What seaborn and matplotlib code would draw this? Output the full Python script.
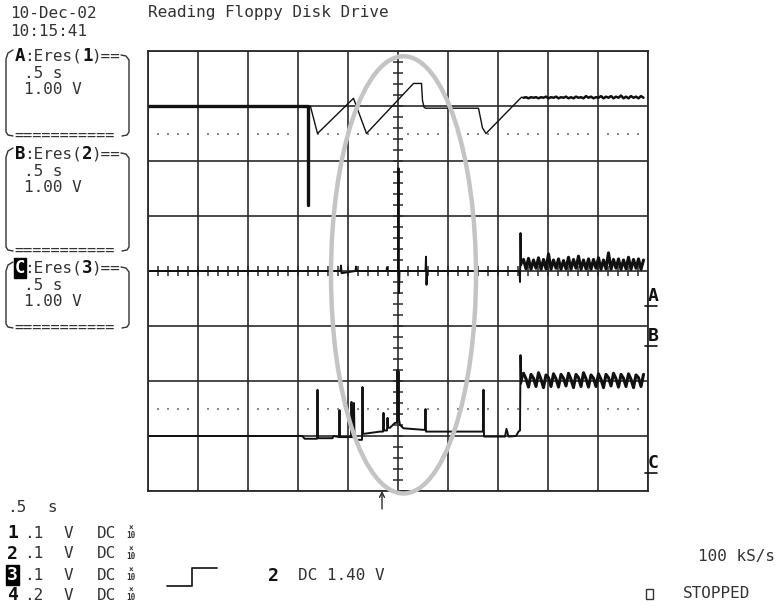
import matplotlib
matplotlib.use("Agg")
import matplotlib.pyplot as plt
from matplotlib.lines import Line2D
from matplotlib.patches import Ellipse, Rectangle
import numpy as np
import pandas as pd
import seaborn as sns

sns.set_style("white")
plt.rcParams["font.family"] = ["DejaVu Sans Mono"]

W, H = 779, 606
GRID = "#2a2a2a"
TRACE = "#111111"
TXT = "#333333"
FS = 11.5
CW = 9.62  # one character cell in pixels

# ---- sampled traces: x in divisions (.5 s/div), y in divisions from bottom ----
noise_t = [7.52, 7.57, 7.62, 7.67, 7.72, 7.77, 7.82, 7.87, 7.92, 7.97,
           8.02, 8.07, 8.12, 8.17, 8.22, 8.27, 8.32, 8.37, 8.42, 8.47,
           8.52, 8.57, 8.62, 8.67, 8.72, 8.77, 8.82, 8.87, 8.92, 8.97,
           9.02, 9.07, 9.12, 9.17, 9.22, 9.27, 9.32, 9.37, 9.42, 9.47,
           9.52, 9.57, 9.62, 9.67, 9.72, 9.77, 9.82, 9.87, 9.92]

# trace A (channel 1)
A_thick_x = [0.00, 3.20, 3.20]
A_thick_y = [7.00, 7.00, 5.20]
A_x = [3.20, 3.26, 3.40, 4.12, 4.38, 5.32, 5.48, 5.50, 5.53, 5.56, 6.62, 6.70, 6.77, 7.48, 7.52]
A_y = [7.00, 6.99, 6.50, 7.14, 6.50, 7.41, 7.41, 7.10, 6.98, 6.96, 6.96, 6.60, 6.50, 7.16, 7.15]
A_noise = [7.15, 7.16, 7.14, 7.16, 7.15, 7.16, 7.14, 7.16, 7.15, 7.17,
           7.14, 7.16, 7.15, 7.17, 7.14, 7.16, 7.15, 7.17, 7.14, 7.16,
           7.14, 7.17, 7.15, 7.16, 7.14, 7.18, 7.15, 7.17, 7.14, 7.16,
           7.15, 7.18, 7.14, 7.17, 7.15, 7.18, 7.14, 7.17, 7.15, 7.19,
           7.14, 7.17, 7.14, 7.18, 7.15, 7.17, 7.14, 7.18, 7.15]

# trace B (channel 2)
B_x = [0.00, 3.86, 3.87, 3.88, 4.16, 4.17, 4.18, 4.78, 4.79, 4.80, 5.01,
       5.02, 5.03, 5.04, 5.56, 5.57, 5.58, 5.59, 7.44, 7.45, 7.46, 7.47, 7.52]
B_y = [4.00, 4.00, 4.10, 3.96, 4.00, 4.08, 4.00, 4.00, 4.07, 4.00, 4.00,
       5.87, 3.60, 4.00, 4.00, 4.26, 3.75, 4.00, 4.00, 3.80, 4.69, 4.10, 4.21]
B_noise = [4.21, 4.04, 4.23, 4.03, 4.20, 4.05, 4.24, 4.03, 4.21, 4.04,
           4.31, 4.03, 4.20, 4.05, 4.22, 4.03, 4.19, 4.04, 4.25, 4.03,
           4.21, 4.05, 4.27, 4.03, 4.20, 4.04, 4.22, 4.03, 4.21, 4.05,
           4.24, 4.03, 4.20, 4.04, 4.33, 4.03, 4.21, 4.05, 4.22, 4.03,
           4.20, 4.04, 4.25, 4.03, 4.21, 4.05, 4.22, 4.03, 4.20]

# trace C (channel 3)
C_x = [0.00, 3.10, 3.14, 3.25, 3.39, 3.40, 3.41, 3.70, 3.72, 3.83,
       3.84, 3.85, 4.07, 4.08, 4.09, 4.12, 4.13, 4.14, 4.18, 4.29,
       4.30, 4.31, 4.33, 4.65, 4.71, 4.72, 4.73, 4.77, 4.79, 4.80,
       4.81, 4.85, 4.95, 4.99, 5.00, 5.01, 5.02, 5.03, 5.05, 5.12,
       5.55, 5.56, 5.57, 5.58, 6.71, 6.72, 6.73, 6.75, 7.15, 7.18,
       7.22, 7.37, 7.42, 7.45, 7.46, 7.47, 7.52]
C_y = [1.00, 1.00, 0.95, 0.95, 0.95, 1.84, 0.96, 0.96, 1.00, 0.98,
       1.47, 0.98, 0.98, 1.62, 0.98, 0.98, 1.60, 0.97, 0.93, 0.93,
       1.89, 1.04, 1.04, 1.08, 1.08, 1.42, 1.10, 1.10, 1.10, 1.33,
       1.15, 1.15, 1.24, 1.24, 2.20, 1.30, 2.18, 1.30, 1.20, 1.14,
       1.11, 1.49, 1.08, 1.08, 1.08, 1.84, 0.99, 0.99, 0.99, 1.13,
       0.99, 1.00, 1.08, 1.10, 2.47, 1.95, 2.14]
C_noise = [2.14, 2.04, 1.89, 2.12, 2.05, 1.90, 2.15, 2.03, 1.88, 2.11,
           2.06, 1.90, 2.13, 2.04, 1.89, 2.12, 2.05, 1.91, 2.14, 2.03,
           1.88, 2.12, 2.06, 1.90, 2.15, 2.04, 1.89, 2.11, 2.05, 1.90,
           2.13, 2.03, 1.88, 2.12, 2.06, 1.91, 2.14, 2.04, 1.89, 2.12,
           2.05, 1.90, 2.13, 2.03, 1.88, 2.11, 2.06, 1.90, 2.12]

# ---- screen texts ----
header_date = "10-Dec-02"
header_time = "10:15:41"
title = "Reading Floppy Disk Drive"
boxes = [("A", "1", 56, 135, False), ("B", "2", 154, 250, False), ("C", "3", 268, 327, True)]
channel_rows = [("1", ".1", 533, False), ("2", ".1", 554, False),
                ("3", ".1", 575, True), ("4", ".2", 595, False)]
trace_marks = [("A", 296), ("B", 336), ("C", 463)]

df_A0 = pd.DataFrame({"t": A_thick_x, "v": A_thick_y})
df_A = pd.DataFrame({"t": A_x, "v": A_y})
df_An = pd.DataFrame({"t": noise_t, "v": A_noise})
df_B = pd.DataFrame({"t": B_x, "v": B_y})
df_Bn = pd.DataFrame({"t": noise_t, "v": B_noise})
df_C = pd.DataFrame({"t": C_x, "v": C_y})
df_Cn = pd.DataFrame({"t": noise_t, "v": C_noise})

fig = plt.figure(figsize=(W / 100, H / 100), dpi=100)
fig.patch.set_facecolor("white")
ax = fig.add_axes([147.5 / W, 1 - 491 / H, 500 / W, 440 / H])
ax.set_xlim(0, 10)
ax.set_ylim(0, 8)
ax.set_xticks(range(11))
ax.set_yticks(range(9))
ax.tick_params(length=0, labelbottom=False, labelleft=False)
ax.grid(True, color=GRID, lw=1.2)
ax.set_axisbelow(True)
for s in ax.spines.values():
    s.set_visible(True)
    s.set_color(GRID)
    s.set_linewidth(1.3)

# graticule: centre cross with sub-division ticks, dotted lines
ax.vlines(np.arange(0.2, 10, 0.2), 4 - 0.09, 4 + 0.09, color=GRID, lw=1.1)
ax.hlines(np.arange(0.2, 8, 0.2), 5 - 0.1, 5 + 0.1, color=GRID, lw=1.1)
dots_x = [k + f for k in range(10) for f in (0.2, 0.4, 0.6, 0.8)]
for yy in (6.5, 1.5):
    ax.scatter(dots_x, [yy] * len(dots_x), marker="s", s=1.6, color="#8a8a8a", linewidths=0)

line_kw = dict(x="t", y="v", ax=ax, color=TRACE, estimator=None, sort=False)
sns.lineplot(data=df_A0, lw=2.4, **line_kw)
sns.lineplot(data=df_A, lw=1.0, **line_kw)
sns.lineplot(data=df_An, lw=1.8, **line_kw)
sns.lineplot(data=df_B, lw=1.4, **line_kw)
sns.lineplot(data=df_Bn, lw=2.2, **line_kw)
sns.lineplot(data=df_C, lw=1.4, **line_kw)
sns.lineplot(data=df_Cn, lw=2.2, **line_kw)
ax.set_xlabel("")
ax.set_ylabel("")

ax.add_patch(Ellipse((5.12, 3.93), 2.9, 7.95, fill=False, ec="#c4c4c4", lw=3.2,
                     zorder=10, clip_on=False))

# trigger arrow under the grid
ax.annotate("", xy=(382 / W, 1 - 491 / H), xycoords="figure fraction",
            xytext=(382 / W, 1 - 509 / H), textcoords="figure fraction",
            arrowprops=dict(arrowstyle="->,head_length=0.35,head_width=0.18",
                            lw=1.0, color=GRID, shrinkA=0, shrinkB=0))


def put(px, py, s, size=FS, weight="normal", color=TXT, **kw):
    fig.text(px / W, 1 - py / H, s, size=size, weight=weight, color=color,
             va="center", ha=kw.pop("ha", "left"), **kw)


def seg(points, lw=1.0, color=TXT):
    fig.add_artist(Line2D([p[0] / W for p in points], [1 - p[1] / H for p in points],
                          lw=lw, color=color))


def badge(px, py, s, inverted, size=12.5):
    if inverted:
        put(px, py, s, size=size, weight="bold", color="white",
            bbox=dict(boxstyle="square,pad=0.05", fc="black", ec="black"))
    else:
        put(px, py, s, size=size, weight="bold", color="#111111")


put(10, 13, header_date)
put(10, 32, header_time)
put(148, 13, title)

x0 = 5
for letter, num, yt, yb, inv in boxes:
    badge(x0 + CW, yt, letter, inv)
    put(x0 + 2 * CW, yt, ":Eres(")
    badge(x0 + 8 * CW, yt, num, False)
    put(x0 + 9 * CW, yt, ")==")
    put(x0 + 2 * CW, yt + 17, ".5 s")
    put(x0 + 2 * CW, yt + 34, "1.00 V")
    put(x0 + CW, yb, "===========", size=11)
    seg([(13, yt - 6), (8, yt - 3), (6, yt + 3), (6, yb - 3), (8, yb), (13, yb + 1)])
    seg([(121, yt - 1), (126, yt), (129, yt + 4), (129, yb - 3), (127, yb), (122, yb + 1)])

put(7, 507, ".5")
put(47, 507, "s")
for d, v, yy, inv in channel_rows:
    badge(7, yy, d, inv, size=13)
    put(24, yy, v)
    put(64, yy, "V")
    put(97, yy, "DC")
    put(131, yy - 1, "×\n10", size=5.5, weight="bold", ha="center", linespacing=0.85,
        multialignment="center")

seg([(167, 586), (192, 586), (192, 568), (217, 568)], lw=1.3, color="#222222")
badge(268, 576, "2", False, size=13)
put(298, 576, "DC 1.40 V")

put(698, 556, "100 kS/s")
fig.add_artist(Rectangle((646 / W, 1 - 599 / H), 7 / W, 10 / H, fill=False,
                         ec=TXT, lw=1.0, transform=fig.transFigure))
put(683, 594, "STOPPED")

for m, yy in trace_marks:
    put(648, yy, m, size=13, weight="bold", color="#111111")
    seg([(645, yy + 10), (657, yy + 10)], lw=1.2, color="#111111")

fig.savefig("out.png", dpi=100, facecolor="white")
